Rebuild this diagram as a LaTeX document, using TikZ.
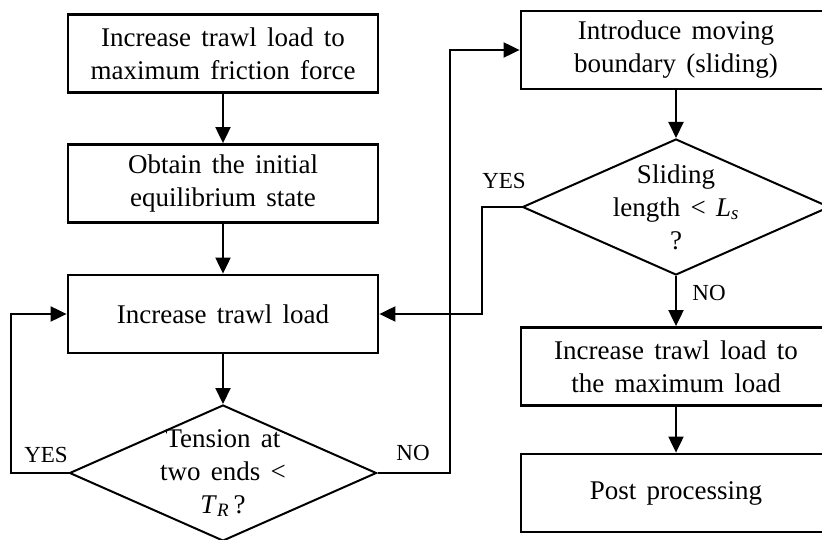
\documentclass[tikz,border=0pt]{standalone}
\usepackage{fontspec}
\setmainfont{Liberation Serif}
\usetikzlibrary{shapes.geometric,arrows.meta,positioning}

% wider interword spacing, as in word-processor output
\newcommand{\boxfont}{\fontsize{27}{33}\selectfont\spaceskip=0.38em plus 0.1em minus 0.05em\relax}

\begin{document}
\begin{tikzpicture}[x=1pt, y=-1pt,
    stepbox/.style={rectangle, draw, line width=2.8pt,
                    minimum width=310pt, minimum height=78pt,
                    inner sep=0pt, align=center, font=\boxfont},
    decision/.style={diamond, draw, line width=2pt,
                     minimum width=307pt, minimum height=136pt, inner sep=0pt},
    dtext/.style={align=center, font=\boxfont},
    arr/.style={-{Triangle[length=16pt,width=15pt]}, line width=2pt},
    tag/.style={font=\fontsize{23}{23}\selectfont},
  ]
    \useasboundingbox (0,0) rectangle (822,540);
    \clip (0,0) rectangle (822,540);

    % left column
    \node[stepbox] (init)  at (223,53.5) {Increase trawl load to\\maximum friction force};
    \node[stepbox] (equil) at (223,183.5) {Obtain the initial\\equilibrium state};
    \node[stepbox] (load)  at (223,314) {Increase trawl load};
    \node[decision, label={[dtext]center:Tension at\\two ends <\\\textit{T}\textsubscript{\textit{R}}\,?}] (tens) at (223,473) {};

    % right column
    \node[stepbox] (slide) at (676,50) {Introduce moving\\boundary (sliding)};
    \node[decision, label={[dtext]center:Sliding\\length < \textit{L}\textsubscript{\textit{s}}\\?}] (len) at (676,207) {};
    \node[stepbox] (maxload) at (676,366.5) {Increase trawl load to\\the maximum load};
    \node[stepbox] (post)    at (676,493) {Post processing};

    % connectors
    \draw[arr] (init) -- (equil);
    \draw[arr] (equil) -- (load);
    \draw[arr] (load) -- (tens);
    \draw[arr] (tens.west) -- ++(-58,0) |- (load.west);
    \draw[arr] (tens.east) -- ++(72,0) |- (slide.west);
    \draw[arr] (slide) -- (len);
    \draw[arr] (len.west) -- ++(-40,0) |- (load.east);
    \draw[arr] (len) -- (maxload);
    \draw[arr] (maxload) -- (post);

    % branch labels
    \node[tag] (yes1) at (46,455) {YES};
    \node[tag] (no1)  at (413,453) {NO};
    \node[tag] (yes2) at (504,181) {YES};
    \node[tag] (no2)  at (709,293) {NO};
  \end{tikzpicture}
\end{document}
